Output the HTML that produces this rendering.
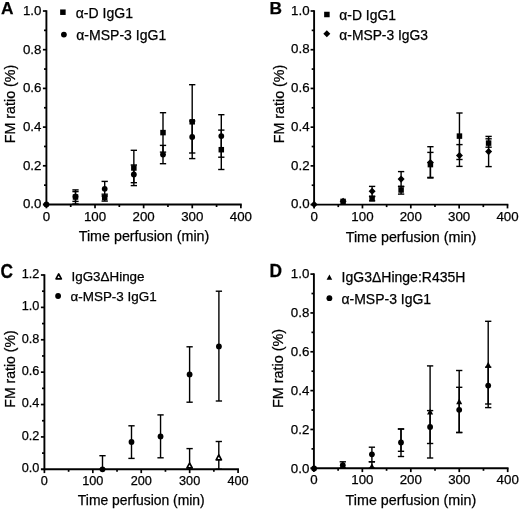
<!DOCTYPE html>
<html><head><meta charset="utf-8"><title>Figure</title>
<style>
html,body{margin:0;padding:0;background:#fff;}
svg{display:block;will-change:transform;font-family:"Liberation Sans", sans-serif;fill:#000;}
text{stroke:#000;stroke-width:0.25px;}
</style></head>
<body>
<svg width="520" height="510" viewBox="0 0 520 510">
<rect x="0" y="0" width="520" height="510" fill="#fff"/>
<line x1="46.40" y1="10.25" x2="46.40" y2="205.45" stroke="#000" stroke-width="1.9" stroke-linecap="butt"/>
<line x1="42.90" y1="204.50" x2="241.73" y2="204.50" stroke="#000" stroke-width="1.9" stroke-linecap="butt"/>
<text x="41.40" y="208.30" font-size="13.3" text-anchor="end" font-weight="normal" >0.0</text>
<line x1="44.00" y1="185.15" x2="46.40" y2="185.15" stroke="#000" stroke-width="1.7" stroke-linecap="butt"/>
<line x1="42.90" y1="165.80" x2="46.40" y2="165.80" stroke="#000" stroke-width="1.7" stroke-linecap="butt"/>
<text x="41.40" y="169.60" font-size="13.3" text-anchor="end" font-weight="normal" >0.2</text>
<line x1="44.00" y1="146.45" x2="46.40" y2="146.45" stroke="#000" stroke-width="1.7" stroke-linecap="butt"/>
<line x1="42.90" y1="127.10" x2="46.40" y2="127.10" stroke="#000" stroke-width="1.7" stroke-linecap="butt"/>
<text x="41.40" y="130.90" font-size="13.3" text-anchor="end" font-weight="normal" >0.4</text>
<line x1="44.00" y1="107.75" x2="46.40" y2="107.75" stroke="#000" stroke-width="1.7" stroke-linecap="butt"/>
<line x1="42.90" y1="88.40" x2="46.40" y2="88.40" stroke="#000" stroke-width="1.7" stroke-linecap="butt"/>
<text x="41.40" y="92.20" font-size="13.3" text-anchor="end" font-weight="normal" >0.6</text>
<line x1="44.00" y1="69.05" x2="46.40" y2="69.05" stroke="#000" stroke-width="1.7" stroke-linecap="butt"/>
<line x1="42.90" y1="49.70" x2="46.40" y2="49.70" stroke="#000" stroke-width="1.7" stroke-linecap="butt"/>
<text x="41.40" y="53.50" font-size="13.3" text-anchor="end" font-weight="normal" >0.8</text>
<line x1="44.00" y1="30.35" x2="46.40" y2="30.35" stroke="#000" stroke-width="1.7" stroke-linecap="butt"/>
<line x1="42.90" y1="11.00" x2="46.40" y2="11.00" stroke="#000" stroke-width="1.7" stroke-linecap="butt"/>
<text x="41.40" y="14.80" font-size="13.3" text-anchor="end" font-weight="normal" >1.0</text>
<line x1="46.40" y1="204.50" x2="46.40" y2="208.30" stroke="#000" stroke-width="1.7" stroke-linecap="butt"/>
<text x="46.40" y="220.50" font-size="13.3" text-anchor="middle" font-weight="normal" >0</text>
<line x1="70.71" y1="204.50" x2="70.71" y2="207.00" stroke="#000" stroke-width="1.7" stroke-linecap="butt"/>
<line x1="95.02" y1="204.50" x2="95.02" y2="208.30" stroke="#000" stroke-width="1.7" stroke-linecap="butt"/>
<text x="95.02" y="220.50" font-size="13.3" text-anchor="middle" font-weight="normal" >100</text>
<line x1="119.33" y1="204.50" x2="119.33" y2="207.00" stroke="#000" stroke-width="1.7" stroke-linecap="butt"/>
<line x1="143.64" y1="204.50" x2="143.64" y2="208.30" stroke="#000" stroke-width="1.7" stroke-linecap="butt"/>
<text x="143.64" y="220.50" font-size="13.3" text-anchor="middle" font-weight="normal" >200</text>
<line x1="167.95" y1="204.50" x2="167.95" y2="207.00" stroke="#000" stroke-width="1.7" stroke-linecap="butt"/>
<line x1="192.26" y1="204.50" x2="192.26" y2="208.30" stroke="#000" stroke-width="1.7" stroke-linecap="butt"/>
<text x="192.26" y="220.50" font-size="13.3" text-anchor="middle" font-weight="normal" >300</text>
<line x1="216.57" y1="204.50" x2="216.57" y2="207.00" stroke="#000" stroke-width="1.7" stroke-linecap="butt"/>
<line x1="240.88" y1="204.50" x2="240.88" y2="208.30" stroke="#000" stroke-width="1.7" stroke-linecap="butt"/>
<text x="240.88" y="220.50" font-size="13.3" text-anchor="middle" font-weight="normal" >400</text>
<text x="144.00" y="241.30" font-size="14.3" text-anchor="middle" font-weight="normal" >Time perfusion (min)</text>
<text x="15.40" y="104.00" font-size="14.3" text-anchor="middle" font-weight="normal" textLength="78.60" lengthAdjust="spacingAndGlyphs" transform="rotate(-90 15.40 104.00)" >FM ratio (%)</text>
<text transform="translate(0.95 13.75) scale(1 1.0)" x="0" y="0" font-size="17.3" font-weight="bold">A</text>
<rect x="60.15" y="9.45" width="5.50" height="5.50" fill="#000"/>
<text x="75.75" y="18.10" font-size="14" text-anchor="start" font-weight="normal" textLength="57.20" lengthAdjust="spacingAndGlyphs" >α-D IgG1</text>
<circle cx="63.90" cy="34.60" r="2.90" fill="#000"/>
<text x="76.25" y="40.10" font-size="14" text-anchor="start" font-weight="normal" textLength="90.00" lengthAdjust="spacingAndGlyphs" >α-MSP-3 IgG1</text>
<line x1="75.50" y1="189.90" x2="75.50" y2="204.00" stroke="#000" stroke-width="1.4" stroke-linecap="butt"/>
<line x1="72.35" y1="189.90" x2="78.65" y2="189.90" stroke="#000" stroke-width="1.4" stroke-linecap="butt"/>
<line x1="72.35" y1="204.00" x2="78.65" y2="204.00" stroke="#000" stroke-width="1.4" stroke-linecap="butt"/>
<line x1="75.50" y1="191.60" x2="75.50" y2="201.40" stroke="#000" stroke-width="1.4" stroke-linecap="butt"/>
<line x1="72.35" y1="191.60" x2="78.65" y2="191.60" stroke="#000" stroke-width="1.4" stroke-linecap="butt"/>
<line x1="72.35" y1="201.40" x2="78.65" y2="201.40" stroke="#000" stroke-width="1.4" stroke-linecap="butt"/>
<line x1="104.70" y1="194.20" x2="104.70" y2="201.10" stroke="#000" stroke-width="1.4" stroke-linecap="butt"/>
<line x1="101.55" y1="194.20" x2="107.85" y2="194.20" stroke="#000" stroke-width="1.4" stroke-linecap="butt"/>
<line x1="101.55" y1="201.10" x2="107.85" y2="201.10" stroke="#000" stroke-width="1.4" stroke-linecap="butt"/>
<line x1="104.70" y1="181.40" x2="104.70" y2="196.00" stroke="#000" stroke-width="1.4" stroke-linecap="butt"/>
<line x1="101.55" y1="181.40" x2="107.85" y2="181.40" stroke="#000" stroke-width="1.4" stroke-linecap="butt"/>
<line x1="101.55" y1="196.00" x2="107.85" y2="196.00" stroke="#000" stroke-width="1.4" stroke-linecap="butt"/>
<line x1="133.85" y1="150.30" x2="133.85" y2="185.60" stroke="#000" stroke-width="1.4" stroke-linecap="butt"/>
<line x1="130.70" y1="150.30" x2="137.00" y2="150.30" stroke="#000" stroke-width="1.4" stroke-linecap="butt"/>
<line x1="130.70" y1="185.60" x2="137.00" y2="185.60" stroke="#000" stroke-width="1.4" stroke-linecap="butt"/>
<line x1="133.85" y1="165.00" x2="133.85" y2="182.70" stroke="#000" stroke-width="1.4" stroke-linecap="butt"/>
<line x1="130.70" y1="165.00" x2="137.00" y2="165.00" stroke="#000" stroke-width="1.4" stroke-linecap="butt"/>
<line x1="130.70" y1="182.70" x2="137.00" y2="182.70" stroke="#000" stroke-width="1.4" stroke-linecap="butt"/>
<line x1="163.00" y1="112.70" x2="163.00" y2="152.10" stroke="#000" stroke-width="1.4" stroke-linecap="butt"/>
<line x1="159.85" y1="112.70" x2="166.15" y2="112.70" stroke="#000" stroke-width="1.4" stroke-linecap="butt"/>
<line x1="159.85" y1="152.10" x2="166.15" y2="152.10" stroke="#000" stroke-width="1.4" stroke-linecap="butt"/>
<line x1="163.00" y1="145.40" x2="163.00" y2="163.70" stroke="#000" stroke-width="1.4" stroke-linecap="butt"/>
<line x1="159.85" y1="145.40" x2="166.15" y2="145.40" stroke="#000" stroke-width="1.4" stroke-linecap="butt"/>
<line x1="159.85" y1="163.70" x2="166.15" y2="163.70" stroke="#000" stroke-width="1.4" stroke-linecap="butt"/>
<line x1="192.20" y1="84.70" x2="192.20" y2="158.60" stroke="#000" stroke-width="1.4" stroke-linecap="butt"/>
<line x1="189.05" y1="84.70" x2="195.35" y2="84.70" stroke="#000" stroke-width="1.4" stroke-linecap="butt"/>
<line x1="189.05" y1="158.60" x2="195.35" y2="158.60" stroke="#000" stroke-width="1.4" stroke-linecap="butt"/>
<line x1="192.20" y1="121.00" x2="192.20" y2="153.00" stroke="#000" stroke-width="1.4" stroke-linecap="butt"/>
<line x1="189.05" y1="121.00" x2="195.35" y2="121.00" stroke="#000" stroke-width="1.4" stroke-linecap="butt"/>
<line x1="189.05" y1="153.00" x2="195.35" y2="153.00" stroke="#000" stroke-width="1.4" stroke-linecap="butt"/>
<line x1="221.30" y1="130.10" x2="221.30" y2="169.50" stroke="#000" stroke-width="1.4" stroke-linecap="butt"/>
<line x1="218.15" y1="130.10" x2="224.45" y2="130.10" stroke="#000" stroke-width="1.4" stroke-linecap="butt"/>
<line x1="218.15" y1="169.50" x2="224.45" y2="169.50" stroke="#000" stroke-width="1.4" stroke-linecap="butt"/>
<line x1="221.30" y1="114.70" x2="221.30" y2="157.20" stroke="#000" stroke-width="1.4" stroke-linecap="butt"/>
<line x1="218.15" y1="114.70" x2="224.45" y2="114.70" stroke="#000" stroke-width="1.4" stroke-linecap="butt"/>
<line x1="218.15" y1="157.20" x2="224.45" y2="157.20" stroke="#000" stroke-width="1.4" stroke-linecap="butt"/>
<circle cx="46.40" cy="204.40" r="2.90" fill="#000"/>
<rect x="72.75" y="194.25" width="5.50" height="5.50" fill="#000"/>
<circle cx="75.50" cy="196.60" r="2.90" fill="#000"/>
<rect x="101.95" y="194.85" width="5.50" height="5.50" fill="#000"/>
<circle cx="104.70" cy="188.80" r="2.90" fill="#000"/>
<rect x="131.10" y="165.25" width="5.50" height="5.50" fill="#000"/>
<circle cx="133.85" cy="174.40" r="2.90" fill="#000"/>
<rect x="160.25" y="129.85" width="5.50" height="5.50" fill="#000"/>
<circle cx="163.00" cy="154.60" r="2.90" fill="#000"/>
<rect x="189.45" y="119.05" width="5.50" height="5.50" fill="#000"/>
<circle cx="192.20" cy="136.90" r="2.90" fill="#000"/>
<rect x="218.55" y="146.95" width="5.50" height="5.50" fill="#000"/>
<circle cx="221.30" cy="136.10" r="2.90" fill="#000"/>
<line x1="314.10" y1="10.25" x2="314.10" y2="205.55" stroke="#000" stroke-width="1.9" stroke-linecap="butt"/>
<line x1="310.60" y1="204.60" x2="508.35" y2="204.60" stroke="#000" stroke-width="1.9" stroke-linecap="butt"/>
<text x="309.60" y="208.30" font-size="13.3" text-anchor="end" font-weight="normal" >0.0</text>
<line x1="311.70" y1="185.24" x2="314.10" y2="185.24" stroke="#000" stroke-width="1.7" stroke-linecap="butt"/>
<line x1="310.60" y1="165.88" x2="314.10" y2="165.88" stroke="#000" stroke-width="1.7" stroke-linecap="butt"/>
<text x="309.60" y="169.58" font-size="13.3" text-anchor="end" font-weight="normal" >0.2</text>
<line x1="311.70" y1="146.52" x2="314.10" y2="146.52" stroke="#000" stroke-width="1.7" stroke-linecap="butt"/>
<line x1="310.60" y1="127.16" x2="314.10" y2="127.16" stroke="#000" stroke-width="1.7" stroke-linecap="butt"/>
<text x="309.60" y="130.86" font-size="13.3" text-anchor="end" font-weight="normal" >0.4</text>
<line x1="311.70" y1="107.80" x2="314.10" y2="107.80" stroke="#000" stroke-width="1.7" stroke-linecap="butt"/>
<line x1="310.60" y1="88.44" x2="314.10" y2="88.44" stroke="#000" stroke-width="1.7" stroke-linecap="butt"/>
<text x="309.60" y="92.14" font-size="13.3" text-anchor="end" font-weight="normal" >0.6</text>
<line x1="311.70" y1="69.08" x2="314.10" y2="69.08" stroke="#000" stroke-width="1.7" stroke-linecap="butt"/>
<line x1="310.60" y1="49.72" x2="314.10" y2="49.72" stroke="#000" stroke-width="1.7" stroke-linecap="butt"/>
<text x="309.60" y="53.42" font-size="13.3" text-anchor="end" font-weight="normal" >0.8</text>
<line x1="311.70" y1="30.36" x2="314.10" y2="30.36" stroke="#000" stroke-width="1.7" stroke-linecap="butt"/>
<line x1="310.60" y1="11.00" x2="314.10" y2="11.00" stroke="#000" stroke-width="1.7" stroke-linecap="butt"/>
<text x="309.60" y="14.70" font-size="13.3" text-anchor="end" font-weight="normal" >1.0</text>
<line x1="314.10" y1="204.60" x2="314.10" y2="208.40" stroke="#000" stroke-width="1.7" stroke-linecap="butt"/>
<text x="314.10" y="220.60" font-size="13.3" text-anchor="middle" font-weight="normal" >0</text>
<line x1="338.28" y1="204.60" x2="338.28" y2="207.10" stroke="#000" stroke-width="1.7" stroke-linecap="butt"/>
<line x1="362.45" y1="204.60" x2="362.45" y2="208.40" stroke="#000" stroke-width="1.7" stroke-linecap="butt"/>
<text x="362.45" y="220.60" font-size="13.3" text-anchor="middle" font-weight="normal" >100</text>
<line x1="386.63" y1="204.60" x2="386.63" y2="207.10" stroke="#000" stroke-width="1.7" stroke-linecap="butt"/>
<line x1="410.80" y1="204.60" x2="410.80" y2="208.40" stroke="#000" stroke-width="1.7" stroke-linecap="butt"/>
<text x="410.80" y="220.60" font-size="13.3" text-anchor="middle" font-weight="normal" >200</text>
<line x1="434.98" y1="204.60" x2="434.98" y2="207.10" stroke="#000" stroke-width="1.7" stroke-linecap="butt"/>
<line x1="459.15" y1="204.60" x2="459.15" y2="208.40" stroke="#000" stroke-width="1.7" stroke-linecap="butt"/>
<text x="459.15" y="220.60" font-size="13.3" text-anchor="middle" font-weight="normal" >300</text>
<line x1="483.33" y1="204.60" x2="483.33" y2="207.10" stroke="#000" stroke-width="1.7" stroke-linecap="butt"/>
<line x1="507.50" y1="204.60" x2="507.50" y2="208.40" stroke="#000" stroke-width="1.7" stroke-linecap="butt"/>
<text x="507.50" y="220.60" font-size="13.3" text-anchor="middle" font-weight="normal" >400</text>
<text x="411.00" y="241.60" font-size="14.3" text-anchor="middle" font-weight="normal" >Time perfusion (min)</text>
<text x="283.60" y="104.00" font-size="14.3" text-anchor="middle" font-weight="normal" textLength="78.40" lengthAdjust="spacingAndGlyphs" transform="rotate(-90 283.60 104.00)" >FM ratio (%)</text>
<text transform="translate(269.50 13.70) scale(1 1.0)" x="0" y="0" font-size="17.3" font-weight="bold">B</text>
<rect x="324.15" y="11.75" width="5.50" height="5.50" fill="#000"/>
<text x="339.30" y="20.00" font-size="14" text-anchor="start" font-weight="normal" textLength="56.70" lengthAdjust="spacingAndGlyphs" >α-D IgG1</text>
<path d="M326.80 30.25 L330.30 33.80 L326.80 37.35 L323.30 33.80 Z" fill="#000"/>
<text x="339.30" y="39.50" font-size="14" text-anchor="start" font-weight="normal" textLength="88.70" lengthAdjust="spacingAndGlyphs" >α-MSP-3 IgG3</text>
<line x1="372.10" y1="196.60" x2="372.10" y2="200.80" stroke="#000" stroke-width="1.4" stroke-linecap="butt"/>
<line x1="368.95" y1="196.60" x2="375.25" y2="196.60" stroke="#000" stroke-width="1.4" stroke-linecap="butt"/>
<line x1="368.95" y1="200.80" x2="375.25" y2="200.80" stroke="#000" stroke-width="1.4" stroke-linecap="butt"/>
<line x1="372.10" y1="186.40" x2="372.10" y2="196.20" stroke="#000" stroke-width="1.4" stroke-linecap="butt"/>
<line x1="368.95" y1="186.40" x2="375.25" y2="186.40" stroke="#000" stroke-width="1.4" stroke-linecap="butt"/>
<line x1="368.95" y1="196.20" x2="375.25" y2="196.20" stroke="#000" stroke-width="1.4" stroke-linecap="butt"/>
<line x1="401.10" y1="186.30" x2="401.10" y2="194.10" stroke="#000" stroke-width="1.4" stroke-linecap="butt"/>
<line x1="397.95" y1="186.30" x2="404.25" y2="186.30" stroke="#000" stroke-width="1.4" stroke-linecap="butt"/>
<line x1="397.95" y1="194.10" x2="404.25" y2="194.10" stroke="#000" stroke-width="1.4" stroke-linecap="butt"/>
<line x1="401.10" y1="171.60" x2="401.10" y2="186.60" stroke="#000" stroke-width="1.4" stroke-linecap="butt"/>
<line x1="397.95" y1="171.60" x2="404.25" y2="171.60" stroke="#000" stroke-width="1.4" stroke-linecap="butt"/>
<line x1="397.95" y1="186.60" x2="404.25" y2="186.60" stroke="#000" stroke-width="1.4" stroke-linecap="butt"/>
<line x1="430.40" y1="152.40" x2="430.40" y2="177.40" stroke="#000" stroke-width="1.4" stroke-linecap="butt"/>
<line x1="427.25" y1="152.40" x2="433.55" y2="152.40" stroke="#000" stroke-width="1.4" stroke-linecap="butt"/>
<line x1="427.25" y1="177.40" x2="433.55" y2="177.40" stroke="#000" stroke-width="1.4" stroke-linecap="butt"/>
<line x1="430.40" y1="146.70" x2="430.40" y2="178.00" stroke="#000" stroke-width="1.4" stroke-linecap="butt"/>
<line x1="427.25" y1="146.70" x2="433.55" y2="146.70" stroke="#000" stroke-width="1.4" stroke-linecap="butt"/>
<line x1="427.25" y1="178.00" x2="433.55" y2="178.00" stroke="#000" stroke-width="1.4" stroke-linecap="butt"/>
<line x1="459.45" y1="113.00" x2="459.45" y2="159.50" stroke="#000" stroke-width="1.4" stroke-linecap="butt"/>
<line x1="456.30" y1="113.00" x2="462.60" y2="113.00" stroke="#000" stroke-width="1.4" stroke-linecap="butt"/>
<line x1="456.30" y1="159.50" x2="462.60" y2="159.50" stroke="#000" stroke-width="1.4" stroke-linecap="butt"/>
<line x1="459.45" y1="144.60" x2="459.45" y2="166.40" stroke="#000" stroke-width="1.4" stroke-linecap="butt"/>
<line x1="456.30" y1="144.60" x2="462.60" y2="144.60" stroke="#000" stroke-width="1.4" stroke-linecap="butt"/>
<line x1="456.30" y1="166.40" x2="462.60" y2="166.40" stroke="#000" stroke-width="1.4" stroke-linecap="butt"/>
<line x1="488.60" y1="138.80" x2="488.60" y2="147.20" stroke="#000" stroke-width="1.4" stroke-linecap="butt"/>
<line x1="485.45" y1="138.80" x2="491.75" y2="138.80" stroke="#000" stroke-width="1.4" stroke-linecap="butt"/>
<line x1="485.45" y1="147.20" x2="491.75" y2="147.20" stroke="#000" stroke-width="1.4" stroke-linecap="butt"/>
<line x1="488.60" y1="136.40" x2="488.60" y2="166.60" stroke="#000" stroke-width="1.4" stroke-linecap="butt"/>
<line x1="485.45" y1="136.40" x2="491.75" y2="136.40" stroke="#000" stroke-width="1.4" stroke-linecap="butt"/>
<line x1="485.45" y1="166.60" x2="491.75" y2="166.60" stroke="#000" stroke-width="1.4" stroke-linecap="butt"/>
<path d="M314.10 200.85 L317.60 204.40 L314.10 207.95 L310.60 204.40 Z" fill="#000"/>
<rect x="340.35" y="198.65" width="5.50" height="5.50" fill="#000"/>
<path d="M343.10 197.65 L346.60 201.20 L343.10 204.75 L339.60 201.20 Z" fill="#000"/>
<rect x="369.35" y="195.95" width="5.50" height="5.50" fill="#000"/>
<path d="M372.10 187.75 L375.60 191.30 L372.10 194.85 L368.60 191.30 Z" fill="#000"/>
<rect x="398.35" y="187.25" width="5.50" height="5.50" fill="#000"/>
<path d="M401.10 175.55 L404.60 179.10 L401.10 182.65 L397.60 179.10 Z" fill="#000"/>
<rect x="427.65" y="161.85" width="5.50" height="5.50" fill="#000"/>
<path d="M430.40 158.95 L433.90 162.50 L430.40 166.05 L426.90 162.50 Z" fill="#000"/>
<rect x="456.70" y="133.35" width="5.50" height="5.50" fill="#000"/>
<path d="M459.45 151.95 L462.95 155.50 L459.45 159.05 L455.95 155.50 Z" fill="#000"/>
<rect x="485.85" y="140.35" width="5.50" height="5.50" fill="#000"/>
<path d="M488.60 148.05 L492.10 151.60 L488.60 155.15 L485.10 151.60 Z" fill="#000"/>
<line x1="44.40" y1="274.25" x2="44.40" y2="470.25" stroke="#000" stroke-width="1.9" stroke-linecap="butt"/>
<line x1="40.90" y1="469.30" x2="238.93" y2="469.30" stroke="#000" stroke-width="1.9" stroke-linecap="butt"/>
<text x="39.40" y="472.05" font-size="12.7" text-anchor="end" font-weight="normal" >0.0</text>
<line x1="42.00" y1="453.11" x2="44.40" y2="453.11" stroke="#000" stroke-width="1.7" stroke-linecap="butt"/>
<line x1="40.90" y1="436.92" x2="44.40" y2="436.92" stroke="#000" stroke-width="1.7" stroke-linecap="butt"/>
<text x="39.40" y="439.67" font-size="12.7" text-anchor="end" font-weight="normal" >0.2</text>
<line x1="42.00" y1="420.73" x2="44.40" y2="420.73" stroke="#000" stroke-width="1.7" stroke-linecap="butt"/>
<line x1="40.90" y1="404.53" x2="44.40" y2="404.53" stroke="#000" stroke-width="1.7" stroke-linecap="butt"/>
<text x="39.40" y="407.28" font-size="12.7" text-anchor="end" font-weight="normal" >0.4</text>
<line x1="42.00" y1="388.34" x2="44.40" y2="388.34" stroke="#000" stroke-width="1.7" stroke-linecap="butt"/>
<line x1="40.90" y1="372.15" x2="44.40" y2="372.15" stroke="#000" stroke-width="1.7" stroke-linecap="butt"/>
<text x="39.40" y="374.90" font-size="12.7" text-anchor="end" font-weight="normal" >0.6</text>
<line x1="42.00" y1="355.96" x2="44.40" y2="355.96" stroke="#000" stroke-width="1.7" stroke-linecap="butt"/>
<line x1="40.90" y1="339.77" x2="44.40" y2="339.77" stroke="#000" stroke-width="1.7" stroke-linecap="butt"/>
<text x="39.40" y="342.52" font-size="12.7" text-anchor="end" font-weight="normal" >0.8</text>
<line x1="42.00" y1="323.57" x2="44.40" y2="323.57" stroke="#000" stroke-width="1.7" stroke-linecap="butt"/>
<line x1="40.90" y1="307.38" x2="44.40" y2="307.38" stroke="#000" stroke-width="1.7" stroke-linecap="butt"/>
<text x="39.40" y="310.13" font-size="12.7" text-anchor="end" font-weight="normal" >1.0</text>
<line x1="42.00" y1="291.19" x2="44.40" y2="291.19" stroke="#000" stroke-width="1.7" stroke-linecap="butt"/>
<line x1="40.90" y1="275.00" x2="44.40" y2="275.00" stroke="#000" stroke-width="1.7" stroke-linecap="butt"/>
<text x="39.40" y="277.75" font-size="12.7" text-anchor="end" font-weight="normal" >1.2</text>
<line x1="44.40" y1="469.30" x2="44.40" y2="473.10" stroke="#000" stroke-width="1.7" stroke-linecap="butt"/>
<text x="44.40" y="484.80" font-size="12.7" text-anchor="middle" font-weight="normal" >0</text>
<line x1="68.61" y1="469.30" x2="68.61" y2="471.80" stroke="#000" stroke-width="1.7" stroke-linecap="butt"/>
<line x1="92.82" y1="469.30" x2="92.82" y2="473.10" stroke="#000" stroke-width="1.7" stroke-linecap="butt"/>
<text x="92.82" y="484.80" font-size="12.7" text-anchor="middle" font-weight="normal" >100</text>
<line x1="117.03" y1="469.30" x2="117.03" y2="471.80" stroke="#000" stroke-width="1.7" stroke-linecap="butt"/>
<line x1="141.24" y1="469.30" x2="141.24" y2="473.10" stroke="#000" stroke-width="1.7" stroke-linecap="butt"/>
<text x="141.24" y="484.80" font-size="12.7" text-anchor="middle" font-weight="normal" >200</text>
<line x1="165.45" y1="469.30" x2="165.45" y2="471.80" stroke="#000" stroke-width="1.7" stroke-linecap="butt"/>
<line x1="189.66" y1="469.30" x2="189.66" y2="473.10" stroke="#000" stroke-width="1.7" stroke-linecap="butt"/>
<text x="189.66" y="484.80" font-size="12.7" text-anchor="middle" font-weight="normal" >300</text>
<line x1="213.87" y1="469.30" x2="213.87" y2="471.80" stroke="#000" stroke-width="1.7" stroke-linecap="butt"/>
<line x1="238.08" y1="469.30" x2="238.08" y2="473.10" stroke="#000" stroke-width="1.7" stroke-linecap="butt"/>
<text x="238.08" y="484.80" font-size="12.7" text-anchor="middle" font-weight="normal" >400</text>
<text x="141.30" y="504.90" font-size="13.9" text-anchor="middle" font-weight="normal" >Time perfusion (min)</text>
<text x="15.00" y="369.00" font-size="13.9" text-anchor="middle" font-weight="normal" textLength="77.30" lengthAdjust="spacingAndGlyphs" transform="rotate(-90 15.00 369.00)" >FM ratio (%)</text>
<text transform="translate(0.40 277.70) scale(1 1.16)" x="0" y="0" font-size="17.3" font-weight="bold">C</text>
<path d="M58.70 273.95 L61.35 278.85 L56.05 278.85 Z" fill="#fff" stroke="#000" stroke-width="1.7" stroke-linejoin="round"/>
<text x="71.50" y="281.30" font-size="13.4" text-anchor="start" font-weight="normal" textLength="73.00" lengthAdjust="spacingAndGlyphs" >IgG3ΔHinge</text>
<circle cx="58.10" cy="296.00" r="2.90" fill="#000"/>
<text x="70.50" y="301.00" font-size="13.4" text-anchor="start" font-weight="normal" textLength="86.20" lengthAdjust="spacingAndGlyphs" >α-MSP-3 IgG1</text>
<line x1="102.50" y1="455.70" x2="102.50" y2="469.30" stroke="#000" stroke-width="1.4" stroke-linecap="butt"/>
<line x1="99.35" y1="455.70" x2="105.65" y2="455.70" stroke="#000" stroke-width="1.4" stroke-linecap="butt"/>
<line x1="99.35" y1="469.30" x2="105.65" y2="469.30" stroke="#000" stroke-width="1.4" stroke-linecap="butt"/>
<line x1="131.50" y1="425.80" x2="131.50" y2="458.40" stroke="#000" stroke-width="1.4" stroke-linecap="butt"/>
<line x1="128.35" y1="425.80" x2="134.65" y2="425.80" stroke="#000" stroke-width="1.4" stroke-linecap="butt"/>
<line x1="128.35" y1="458.40" x2="134.65" y2="458.40" stroke="#000" stroke-width="1.4" stroke-linecap="butt"/>
<line x1="160.55" y1="414.90" x2="160.55" y2="457.80" stroke="#000" stroke-width="1.4" stroke-linecap="butt"/>
<line x1="157.40" y1="414.90" x2="163.70" y2="414.90" stroke="#000" stroke-width="1.4" stroke-linecap="butt"/>
<line x1="157.40" y1="457.80" x2="163.70" y2="457.80" stroke="#000" stroke-width="1.4" stroke-linecap="butt"/>
<line x1="189.60" y1="346.80" x2="189.60" y2="402.20" stroke="#000" stroke-width="1.4" stroke-linecap="butt"/>
<line x1="186.45" y1="346.80" x2="192.75" y2="346.80" stroke="#000" stroke-width="1.4" stroke-linecap="butt"/>
<line x1="186.45" y1="402.20" x2="192.75" y2="402.20" stroke="#000" stroke-width="1.4" stroke-linecap="butt"/>
<line x1="218.90" y1="291.20" x2="218.90" y2="401.00" stroke="#000" stroke-width="1.4" stroke-linecap="butt"/>
<line x1="215.75" y1="291.20" x2="222.05" y2="291.20" stroke="#000" stroke-width="1.4" stroke-linecap="butt"/>
<line x1="215.75" y1="401.00" x2="222.05" y2="401.00" stroke="#000" stroke-width="1.4" stroke-linecap="butt"/>
<line x1="189.60" y1="448.60" x2="189.60" y2="469.30" stroke="#000" stroke-width="1.4" stroke-linecap="butt"/>
<line x1="186.45" y1="448.60" x2="192.75" y2="448.60" stroke="#000" stroke-width="1.4" stroke-linecap="butt"/>
<line x1="186.45" y1="469.30" x2="192.75" y2="469.30" stroke="#000" stroke-width="1.4" stroke-linecap="butt"/>
<line x1="218.80" y1="441.50" x2="218.80" y2="469.30" stroke="#000" stroke-width="1.4" stroke-linecap="butt"/>
<line x1="215.65" y1="441.50" x2="221.95" y2="441.50" stroke="#000" stroke-width="1.4" stroke-linecap="butt"/>
<line x1="215.65" y1="469.30" x2="221.95" y2="469.30" stroke="#000" stroke-width="1.4" stroke-linecap="butt"/>
<circle cx="102.50" cy="469.30" r="2.90" fill="#000"/>
<circle cx="131.50" cy="442.00" r="2.90" fill="#000"/>
<circle cx="160.55" cy="436.40" r="2.90" fill="#000"/>
<circle cx="189.60" cy="374.40" r="2.90" fill="#000"/>
<circle cx="218.90" cy="346.40" r="2.90" fill="#000"/>
<path d="M189.60 463.05 L192.25 467.95 L186.95 467.95 Z" fill="#fff" stroke="#000" stroke-width="1.7" stroke-linejoin="round"/>
<path d="M218.80 454.95 L221.45 459.85 L216.15 459.85 Z" fill="#fff" stroke="#000" stroke-width="1.7" stroke-linejoin="round"/>
<line x1="313.90" y1="273.35" x2="313.90" y2="469.25" stroke="#000" stroke-width="1.9" stroke-linecap="butt"/>
<line x1="310.40" y1="468.30" x2="508.55" y2="468.30" stroke="#000" stroke-width="1.9" stroke-linecap="butt"/>
<text x="309.30" y="472.60" font-size="13.3" text-anchor="end" font-weight="normal" >0.0</text>
<line x1="311.50" y1="448.88" x2="313.90" y2="448.88" stroke="#000" stroke-width="1.7" stroke-linecap="butt"/>
<line x1="310.40" y1="429.46" x2="313.90" y2="429.46" stroke="#000" stroke-width="1.7" stroke-linecap="butt"/>
<text x="309.30" y="433.76" font-size="13.3" text-anchor="end" font-weight="normal" >0.2</text>
<line x1="311.50" y1="410.04" x2="313.90" y2="410.04" stroke="#000" stroke-width="1.7" stroke-linecap="butt"/>
<line x1="310.40" y1="390.62" x2="313.90" y2="390.62" stroke="#000" stroke-width="1.7" stroke-linecap="butt"/>
<text x="309.30" y="394.92" font-size="13.3" text-anchor="end" font-weight="normal" >0.4</text>
<line x1="311.50" y1="371.20" x2="313.90" y2="371.20" stroke="#000" stroke-width="1.7" stroke-linecap="butt"/>
<line x1="310.40" y1="351.78" x2="313.90" y2="351.78" stroke="#000" stroke-width="1.7" stroke-linecap="butt"/>
<text x="309.30" y="356.08" font-size="13.3" text-anchor="end" font-weight="normal" >0.6</text>
<line x1="311.50" y1="332.36" x2="313.90" y2="332.36" stroke="#000" stroke-width="1.7" stroke-linecap="butt"/>
<line x1="310.40" y1="312.94" x2="313.90" y2="312.94" stroke="#000" stroke-width="1.7" stroke-linecap="butt"/>
<text x="309.30" y="317.24" font-size="13.3" text-anchor="end" font-weight="normal" >0.8</text>
<line x1="311.50" y1="293.52" x2="313.90" y2="293.52" stroke="#000" stroke-width="1.7" stroke-linecap="butt"/>
<line x1="310.40" y1="274.10" x2="313.90" y2="274.10" stroke="#000" stroke-width="1.7" stroke-linecap="butt"/>
<text x="309.30" y="278.40" font-size="13.3" text-anchor="end" font-weight="normal" >1.0</text>
<line x1="313.90" y1="468.30" x2="313.90" y2="472.10" stroke="#000" stroke-width="1.7" stroke-linecap="butt"/>
<text x="313.90" y="484.40" font-size="13.3" text-anchor="middle" font-weight="normal" >0</text>
<line x1="338.12" y1="468.30" x2="338.12" y2="470.80" stroke="#000" stroke-width="1.7" stroke-linecap="butt"/>
<line x1="362.35" y1="468.30" x2="362.35" y2="472.10" stroke="#000" stroke-width="1.7" stroke-linecap="butt"/>
<text x="362.35" y="484.40" font-size="13.3" text-anchor="middle" font-weight="normal" >100</text>
<line x1="386.57" y1="468.30" x2="386.57" y2="470.80" stroke="#000" stroke-width="1.7" stroke-linecap="butt"/>
<line x1="410.80" y1="468.30" x2="410.80" y2="472.10" stroke="#000" stroke-width="1.7" stroke-linecap="butt"/>
<text x="410.80" y="484.40" font-size="13.3" text-anchor="middle" font-weight="normal" >200</text>
<line x1="435.02" y1="468.30" x2="435.02" y2="470.80" stroke="#000" stroke-width="1.7" stroke-linecap="butt"/>
<line x1="459.25" y1="468.30" x2="459.25" y2="472.10" stroke="#000" stroke-width="1.7" stroke-linecap="butt"/>
<text x="459.25" y="484.40" font-size="13.3" text-anchor="middle" font-weight="normal" >300</text>
<line x1="483.48" y1="468.30" x2="483.48" y2="470.80" stroke="#000" stroke-width="1.7" stroke-linecap="butt"/>
<line x1="507.70" y1="468.30" x2="507.70" y2="472.10" stroke="#000" stroke-width="1.7" stroke-linecap="butt"/>
<text x="507.70" y="484.40" font-size="13.3" text-anchor="middle" font-weight="normal" >400</text>
<text x="410.90" y="504.50" font-size="14.3" text-anchor="middle" font-weight="normal" >Time perfusion (min)</text>
<text x="283.30" y="368.50" font-size="14.3" text-anchor="middle" font-weight="normal" textLength="79.20" lengthAdjust="spacingAndGlyphs" transform="rotate(-90 283.30 368.50)" >FM ratio (%)</text>
<text transform="translate(269.60 277.10) scale(1 1.07)" x="0" y="0" font-size="17.3" font-weight="bold">D</text>
<path d="M329.40 274.45 L332.20 279.75 L326.60 279.75 Z" fill="#000"/>
<text x="341.60" y="281.90" font-size="14" text-anchor="start" font-weight="normal" textLength="123.80" lengthAdjust="spacingAndGlyphs" >IgG3ΔHinge:R435H</text>
<circle cx="329.40" cy="298.20" r="2.90" fill="#000"/>
<text x="341.50" y="303.60" font-size="14" text-anchor="start" font-weight="normal" textLength="89.60" lengthAdjust="spacingAndGlyphs" >α-MSP-3 IgG1</text>
<line x1="342.80" y1="461.80" x2="342.80" y2="468.00" stroke="#000" stroke-width="1.4" stroke-linecap="butt"/>
<line x1="339.65" y1="461.80" x2="345.95" y2="461.80" stroke="#000" stroke-width="1.4" stroke-linecap="butt"/>
<line x1="339.65" y1="468.00" x2="345.95" y2="468.00" stroke="#000" stroke-width="1.4" stroke-linecap="butt"/>
<line x1="371.90" y1="461.80" x2="371.90" y2="468.30" stroke="#000" stroke-width="1.4" stroke-linecap="butt"/>
<line x1="368.75" y1="461.80" x2="375.05" y2="461.80" stroke="#000" stroke-width="1.4" stroke-linecap="butt"/>
<line x1="368.75" y1="468.30" x2="375.05" y2="468.30" stroke="#000" stroke-width="1.4" stroke-linecap="butt"/>
<line x1="371.90" y1="447.20" x2="371.90" y2="461.80" stroke="#000" stroke-width="1.4" stroke-linecap="butt"/>
<line x1="368.75" y1="447.20" x2="375.05" y2="447.20" stroke="#000" stroke-width="1.4" stroke-linecap="butt"/>
<line x1="368.75" y1="461.80" x2="375.05" y2="461.80" stroke="#000" stroke-width="1.4" stroke-linecap="butt"/>
<line x1="401.00" y1="428.90" x2="401.00" y2="456.50" stroke="#000" stroke-width="1.4" stroke-linecap="butt"/>
<line x1="397.85" y1="428.90" x2="404.15" y2="428.90" stroke="#000" stroke-width="1.4" stroke-linecap="butt"/>
<line x1="397.85" y1="456.50" x2="404.15" y2="456.50" stroke="#000" stroke-width="1.4" stroke-linecap="butt"/>
<line x1="401.00" y1="429.10" x2="401.00" y2="451.30" stroke="#000" stroke-width="1.4" stroke-linecap="butt"/>
<line x1="397.85" y1="429.10" x2="404.15" y2="429.10" stroke="#000" stroke-width="1.4" stroke-linecap="butt"/>
<line x1="397.85" y1="451.30" x2="404.15" y2="451.30" stroke="#000" stroke-width="1.4" stroke-linecap="butt"/>
<line x1="430.10" y1="365.90" x2="430.10" y2="458.00" stroke="#000" stroke-width="1.4" stroke-linecap="butt"/>
<line x1="426.95" y1="365.90" x2="433.25" y2="365.90" stroke="#000" stroke-width="1.4" stroke-linecap="butt"/>
<line x1="426.95" y1="458.00" x2="433.25" y2="458.00" stroke="#000" stroke-width="1.4" stroke-linecap="butt"/>
<line x1="430.10" y1="410.60" x2="430.10" y2="443.50" stroke="#000" stroke-width="1.4" stroke-linecap="butt"/>
<line x1="426.95" y1="410.60" x2="433.25" y2="410.60" stroke="#000" stroke-width="1.4" stroke-linecap="butt"/>
<line x1="426.95" y1="443.50" x2="433.25" y2="443.50" stroke="#000" stroke-width="1.4" stroke-linecap="butt"/>
<line x1="459.20" y1="370.50" x2="459.20" y2="432.50" stroke="#000" stroke-width="1.4" stroke-linecap="butt"/>
<line x1="456.05" y1="370.50" x2="462.35" y2="370.50" stroke="#000" stroke-width="1.4" stroke-linecap="butt"/>
<line x1="456.05" y1="432.50" x2="462.35" y2="432.50" stroke="#000" stroke-width="1.4" stroke-linecap="butt"/>
<line x1="459.20" y1="387.30" x2="459.20" y2="432.50" stroke="#000" stroke-width="1.4" stroke-linecap="butt"/>
<line x1="456.05" y1="387.30" x2="462.35" y2="387.30" stroke="#000" stroke-width="1.4" stroke-linecap="butt"/>
<line x1="456.05" y1="432.50" x2="462.35" y2="432.50" stroke="#000" stroke-width="1.4" stroke-linecap="butt"/>
<line x1="488.20" y1="321.30" x2="488.20" y2="407.60" stroke="#000" stroke-width="1.4" stroke-linecap="butt"/>
<line x1="485.05" y1="321.30" x2="491.35" y2="321.30" stroke="#000" stroke-width="1.4" stroke-linecap="butt"/>
<line x1="485.05" y1="407.60" x2="491.35" y2="407.60" stroke="#000" stroke-width="1.4" stroke-linecap="butt"/>
<line x1="488.20" y1="367.20" x2="488.20" y2="404.00" stroke="#000" stroke-width="1.4" stroke-linecap="butt"/>
<line x1="485.05" y1="367.20" x2="491.35" y2="367.20" stroke="#000" stroke-width="1.4" stroke-linecap="butt"/>
<line x1="485.05" y1="404.00" x2="491.35" y2="404.00" stroke="#000" stroke-width="1.4" stroke-linecap="butt"/>
<circle cx="314.10" cy="468.40" r="2.90" fill="#000"/>
<path d="M342.80 463.14 L345.82 468.86 L339.78 468.86 Z" fill="#000"/>
<circle cx="342.80" cy="465.20" r="2.90" fill="#000"/>
<path d="M371.90 463.14 L374.92 468.86 L368.88 468.86 Z" fill="#000"/>
<circle cx="371.90" cy="454.30" r="2.90" fill="#000"/>
<circle cx="401.00" cy="442.50" r="2.90" fill="#000"/>
<path d="M430.10 408.74 L433.12 414.46 L427.08 414.46 Z" fill="#000"/>
<circle cx="430.10" cy="426.90" r="2.90" fill="#000"/>
<path d="M459.20 398.54 L462.22 404.26 L456.18 404.26 Z" fill="#000"/>
<circle cx="459.20" cy="409.80" r="2.90" fill="#000"/>
<path d="M488.20 361.74 L491.22 367.46 L485.18 367.46 Z" fill="#000"/>
<circle cx="488.20" cy="385.60" r="2.90" fill="#000"/>
</svg>
</body></html>
